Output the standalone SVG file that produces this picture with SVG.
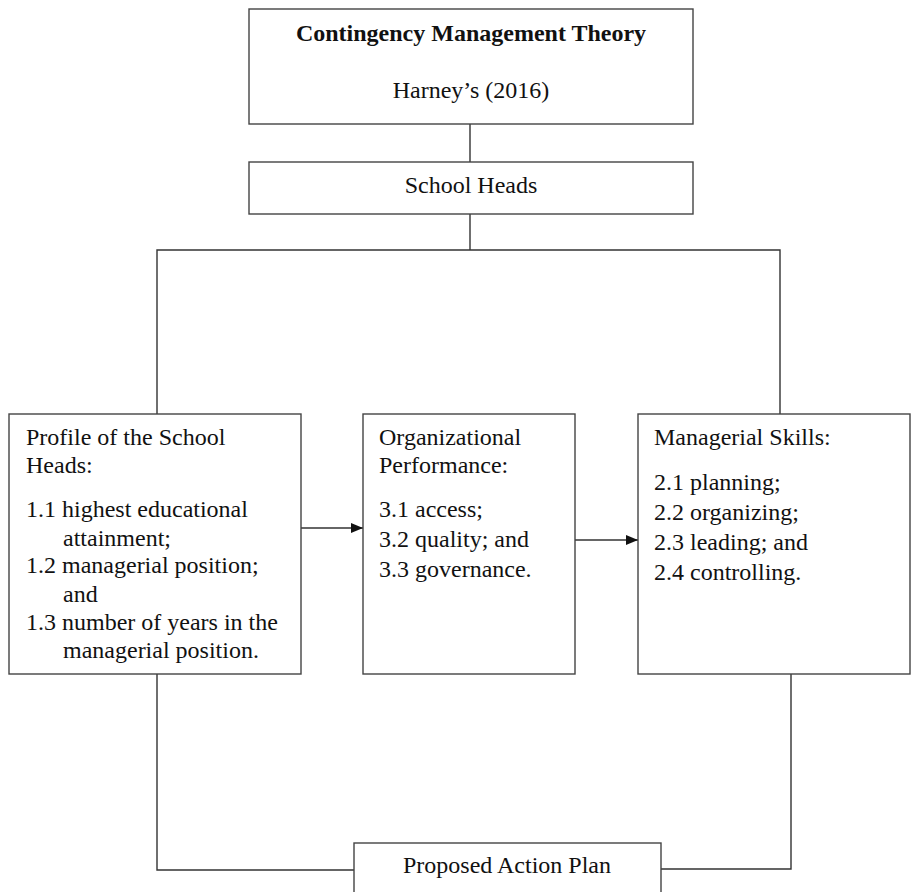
<svg xmlns="http://www.w3.org/2000/svg" width="912" height="892" viewBox="0 0 912 892">
<style>
.box{fill:#fff;stroke:#444;stroke-width:1.4}
.ln{fill:none;stroke:#333;stroke-width:1.4}
text{font-family:"Times New Roman","Liberation Serif",Tinos,serif;font-size:24px;fill:#111}
.b{font-weight:bold}
.c{text-anchor:middle}
</style>
<defs>
<marker id="ah" viewBox="0 0 12 10" refX="12" refY="5" markerWidth="12" markerHeight="10" markerUnits="userSpaceOnUse" orient="auto">
<path d="M0,0 L12,5 L0,10 Z" fill="#111"/>
</marker>
</defs>
<g id="connectors">
<line class="ln" x1="470" y1="124" x2="470" y2="162"/>
<polyline class="ln" points="470,214 470,250"/>
<polyline class="ln" points="157,414 157,250 780,250 780,414"/>
<polyline class="ln" points="157,674 157,870 354,870"/>
<polyline class="ln" points="791,674 791,869 661,869"/>
<line class="ln" x1="301" y1="528" x2="363" y2="528" marker-end="url(#ah)"/>
<line class="ln" x1="575" y1="540" x2="638" y2="540" marker-end="url(#ah)"/>
</g>
<g id="theory">
<rect class="box" x="249" y="9" width="444" height="115"/>
<text class="b c" x="471" y="41">Contingency Management Theory</text>
<text class="c" x="471" y="98">Harney’s (2016)</text>
</g>
<g id="school-heads">
<rect class="box" x="249" y="162" width="444" height="52"/>
<text class="c" x="471" y="193">School Heads</text>
</g>
<g id="profile">
<rect class="box" x="9" y="414" width="292" height="260"/>
<text x="26" y="445">Profile of the School</text>
<text x="26" y="473">Heads:</text>
<text x="26" y="517">1.1 highest educational</text>
<text x="63" y="546">attainment;</text>
<text x="26" y="573">1.2 managerial position;</text>
<text x="63" y="602">and</text>
<text x="26" y="630">1.3 number of years in the</text>
<text x="63" y="658">managerial position.</text>
</g>
<g id="org-performance">
<rect class="box" x="363" y="414" width="212" height="260"/>
<text x="379" y="445">Organizational</text>
<text x="379" y="473">Performance:</text>
<text x="379" y="517">3.1 access;</text>
<text x="379" y="547">3.2 quality; and</text>
<text x="379" y="577">3.3 governance.</text>
</g>
<g id="managerial-skills">
<rect class="box" x="638" y="414" width="272" height="260"/>
<text x="654" y="445">Managerial Skills:</text>
<text x="654" y="490">2.1 planning;</text>
<text x="654" y="520">2.2 organizing;</text>
<text x="654" y="550">2.3 leading; and</text>
<text x="654" y="580">2.4 controlling.</text>
</g>
<g id="action-plan">
<rect class="box" x="354" y="843" width="307" height="60"/>
<text class="c" x="507" y="873">Proposed Action Plan</text>
</g>
</svg>
